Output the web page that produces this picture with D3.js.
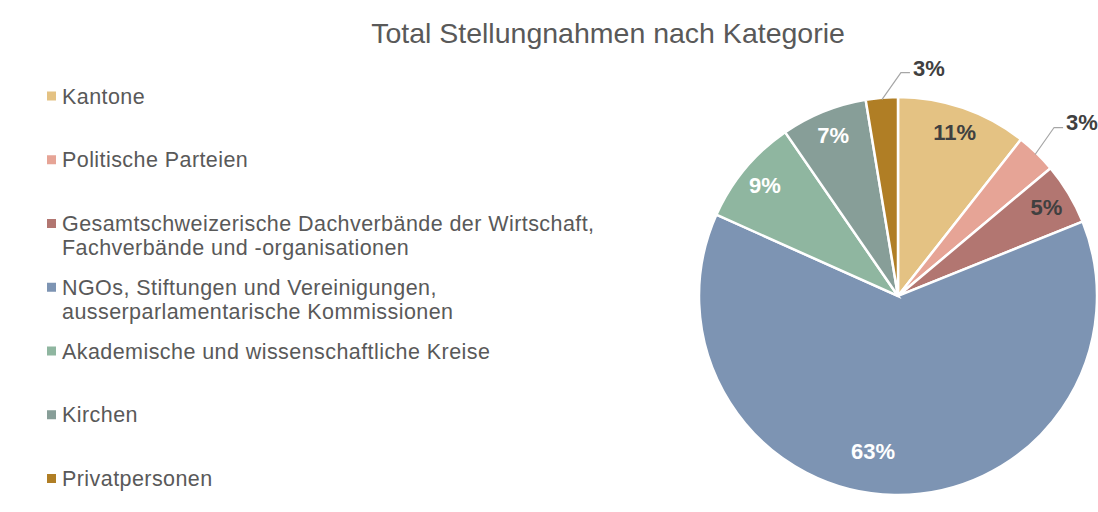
<!DOCTYPE html>
<html>
<head>
<meta charset="utf-8">
<script src="https://cdn.jsdelivr.net/npm/d3@7"></script>
<style>
  body { margin: 0; background: #fff; }
  text { font-family: "Liberation Sans", Arial, sans-serif; }
</style>
</head>
<body>
<div id="chart"></div>
<script>
const categories = [
	"Kantone",
	"Politische Parteien",
	"Gesamtschweizerische Dachverbände der Wirtschaft,|Fachverbände und -organisationen",
	"NGOs, Stiftungen und Vereinigungen,|ausserparlamentarische Kommissionen",
	"Akademische und wissenschaftliche Kreise",
	"Kirchen",
	"Privatpersonen"
]

// share of all statements, in percent
const shares = [10.6, 3.3, 5.0, 62.8, 8.7, 7.0, 2.6]

const colors = ["#E4C283", "#E6A496", "#B27671", "#7D94B3", "#8FB6A0", "#879E98", "#B07E25"]

// label placement: inside (light or dark text) or outside with a leader line
const labelModes = ["dark", "outside", "dark", "light", "light", "light", "outside"]

const width = 1098, height = 512
const cx = 898, cy = 296, radius = 199

const svg = d3.select("#chart")
	.append("svg")
	.attr("width", width)
	.attr("height", height)

svg.append("text")
	.attr("x", 608)
	.attr("y", 43)
	.attr("text-anchor", "middle")
	.style("font-size", "28.5px")
	.attr("fill", "#595959")
	.text("Total Stellungnahmen nach Kategorie")

//Legend
const legend = svg.append("g")
	.selectAll("g")
	.data(categories)
	.enter()
	.append("g")
	.attr("transform", (d, i) => `translate(47, ${96 + i * 63.75})`)

legend.append("rect")
	.attr("x", 0)
	.attr("y", -4.5)
	.attr("width", 9)
	.attr("height", 9)
	.attr("fill", (d, i) => colors[i])

legend.append("text")
	.attr("x", 15)
	.attr("y", 7.5)
	.style("font-size", "21.5px")
	.style("letter-spacing", "0.43px")
	.attr("fill", "#595959")
	.selectAll("tspan")
	.data(d => d.split("|"))
	.enter()
	.append("tspan")
	.attr("x", 15)
	.attr("dy", (d, i) => i == 0 ? 0 : 24)
	.text(d => d)

//Pie
const pie = d3.pie().sort(null).value(d => d)
const arcs = pie(shares)
const total = d3.sum(shares)

const arc = d3.arc().innerRadius(0).outerRadius(radius)

const g = svg.append("g").attr("transform", `translate(${cx}, ${cy})`)

g.selectAll("path")
	.data(arcs)
	.enter()
	.append("path")
	.attr("d", arc)
	.attr("fill", (d, i) => colors[i])
	.attr("stroke", "white")
	.attr("stroke-width", 2.5)

function pointAt(angle, r) {
	return [Math.sin(angle) * r, -Math.cos(angle) * r]
}

const pct = d => Math.round(d.value / total * 100) + "%"

// inside labels
g.selectAll("text.inside")
	.data(arcs.filter((d, i) => labelModes[i] != "outside"))
	.enter()
	.append("text")
	.attr("class", "inside")
	.each(function(d) {
		const mid = (d.startAngle + d.endAngle) / 2
		const big = d.value / total > 0.5
		const p = pointAt(big ? mid + 0.14 : mid, radius * (big ? 0.79 : 0.87))
		d3.select(this).attr("x", p[0]).attr("y", p[1])
	})
	.attr("dy", "0.36em")
	.attr("text-anchor", "middle")
	.style("font-size", "22px")
	.style("font-weight", "bold")
	.attr("fill", d => labelModes[d.index] == "light" ? "#ffffff" : "#404040")
	.text(pct)

// outside labels with leader lines
const outside = g.selectAll("g.outside")
	.data(arcs.filter((d, i) => labelModes[i] == "outside"))
	.enter()
	.append("g")
	.attr("class", "outside")

outside.append("polyline")
	.attr("points", d => {
		const mid = (d.startAngle + d.endAngle) / 2
		const p0 = pointAt(mid, radius - 2)
		const p1 = [p0[0] + 19, p0[1] - 27]
		const p2 = [p1[0] + 9, p1[1]]
		return [p0, p1, p2].map(p => p.join(",")).join(" ")
	})
	.attr("fill", "none")
	.attr("stroke", "#a6a6a6")
	.attr("stroke-width", 1.2)

outside.append("text")
	.attr("x", d => pointAt((d.startAngle + d.endAngle) / 2, radius - 2)[0] + 31)
	.attr("y", d => pointAt((d.startAngle + d.endAngle) / 2, radius - 2)[1] - 32)
	.attr("dy", "0.36em")
	.style("font-size", "22px")
	.style("font-weight", "bold")
	.attr("fill", "#404040")
	.text(pct)
</script>
</body>
</html>
